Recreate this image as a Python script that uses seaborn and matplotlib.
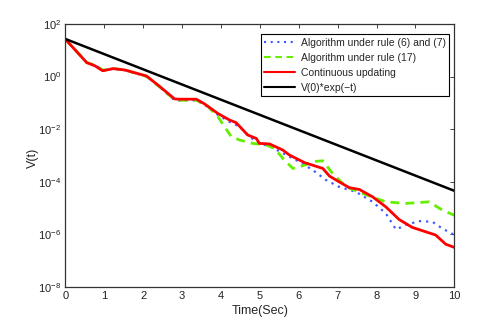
import numpy as np
import pandas as pd
import matplotlib
matplotlib.use("Agg")
import matplotlib.pyplot as plt
import seaborn as sns

# Values (log10 of V(t))
t_rule67 = [0, 0.33, 0.56, 0.8, 0.97, 1.23, 1.53, 2.09, 2.43, 2.81, 2.94, 3.37, 3.63, 3.92,
            4.22, 4.48, 4.74, 5.0, 5.25, 5.68, 6.02, 6.36, 6.70, 7.04, 7.47, 7.90, 8.24,
            8.50, 8.75, 9.09, 9.44, 9.69, 10]
logv_rule67 = [1.42, 0.89, 0.53, 0.41, 0.23, 0.30, 0.24, 0.0, -0.40, -0.90, -0.91, -0.90, -1.12, -1.45,
               -1.72, -1.90, -2.29, -2.55, -2.64, -2.98, -3.24, -3.55, -3.93, -4.19, -4.38, -4.76, -5.20,
               -5.81, -5.64, -5.49, -5.52, -5.77, -6.02]

t_rule17 = [0, 0.33, 0.56, 0.8, 0.97, 1.23, 1.53, 2.09, 2.43, 2.81, 2.94, 3.37, 3.63, 3.92,
            4.27, 4.48, 4.82, 5.16, 5.38, 5.63, 5.85, 6.02, 6.27, 6.45, 6.62, 6.87, 7.22,
            7.64, 8.24, 8.75, 9.35, 9.69, 10]
logv_rule17 = [1.42, 0.89, 0.53, 0.41, 0.24, 0.31, 0.25, 0.01, -0.40, -0.88, -0.90, -0.90, -1.08, -1.52,
               -2.29, -2.41, -2.54, -2.60, -2.73, -3.17, -3.49, -3.43, -3.30, -3.22, -3.20, -3.68, -4.19,
               -4.44, -4.76, -4.82, -4.76, -5.07, -5.27]

t_cont = [0, 0.33, 0.55, 0.76, 0.96, 1.23, 1.53, 2.09, 2.43, 2.81, 2.94, 3.37, 3.58, 3.92,
          4.22, 4.39, 4.69, 4.91, 4.99, 5.25, 5.59, 5.76, 6.15, 6.62, 6.79, 7.04, 7.30,
          7.56, 7.90, 8.24, 8.58, 8.92, 9.27, 9.52, 9.78, 10]
logv_cont = [1.42, 0.89, 0.53, 0.41, 0.22, 0.30, 0.25, 0.02, -0.38, -0.85, -0.86, -0.86, -1.04, -1.40,
             -1.65, -1.75, -2.22, -2.35, -2.54, -2.56, -2.79, -2.98, -3.27, -3.49, -3.78, -4.00, -4.22,
             -4.29, -4.57, -4.95, -5.43, -5.73, -5.90, -6.02, -6.37, -6.49]

t_bound = [0, 10]
logv_bound = [1.43, -4.34]

labels = ["Algorithm under rule (6) and (7)", "Algorithm under rule (17)",
          "Continuous updating", "V(0)*exp(\u2212t)"]

sns.set_style("white")
plt.rcParams['font.family'] = ['Liberation Sans', 'DejaVu Sans']
plt.rcParams['mathtext.fontset'] = 'custom'
plt.rcParams['mathtext.rm'] = 'Liberation Sans'

fig = plt.figure(figsize=(5.02, 3.23), dpi=100)
ax = fig.add_axes([0.130, 0.111, 0.775, 0.815])

series = [
    (t_rule67, logv_rule67, dict(color="#3a5cff", linestyle=(0, (1, 2.2)), linewidth=1.6)),
    (t_rule17, logv_rule17, dict(color="#66ee00", linestyle=(0, (3.2, 2.2)), linewidth=2.0)),
    (t_cont, logv_cont, dict(color="#ff0000", linestyle="-", linewidth=2.0)),
    (t_bound, logv_bound, dict(color="black", linestyle="-", linewidth=1.8)),
]
for (t, lv, style), lab in zip(series, labels):
    df = pd.DataFrame({"t": t, "V": 10.0 ** np.array(lv)})
    sns.lineplot(data=df, x="t", y="V", ax=ax, label=lab, sort=False, **style)

ax.set_yscale("log")
ax.set_xlim(0, 10)
ax.set_ylim(1e-8, 1e2)
ax.set_xticks(range(0, 11))
ax.set_yticks([1e-8, 1e-6, 1e-4, 1e-2, 1e0, 1e2])
ax.minorticks_off()
ax.tick_params(direction="in", top=True, right=True, length=3, width=0.6,
               labelsize=8, pad=3, colors="#222222")
for s in ax.spines.values():
    s.set_color("#333333")
    s.set_linewidth(0.9)

ax.set_xlabel("Time(Sec)", fontsize=9)
ax.set_ylabel("V(t)", fontsize=9)
ax.xaxis.set_label_coords(0.5, -0.066)
ax.yaxis.set_label_coords(-0.068, 0.49)

leg = ax.legend(loc="upper right", bbox_to_anchor=(0.987, 0.962), fontsize=7.5,
                handlelength=3.0, frameon=True, fancybox=False, borderaxespad=0,
                labelspacing=0.48, borderpad=0.35, handletextpad=0.5)
leg.get_frame().set_edgecolor("black")
leg.get_frame().set_linewidth(0.8)
leg.get_frame().set_alpha(1)
for h in leg.get_lines():
    h.set_linewidth(1.5)

fig.savefig("out.png", dpi=100)
